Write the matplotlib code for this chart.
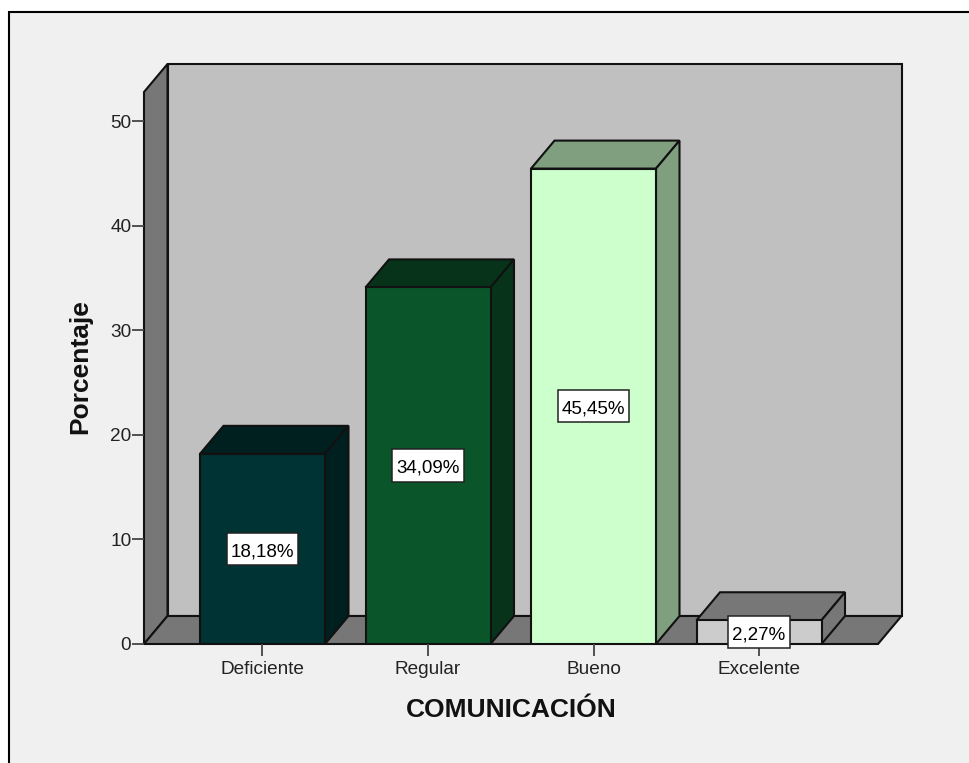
#!/usr/bin/env python
#+++ Imports
import matplotlib
matplotlib.use("Agg")
import matplotlib.pyplot as plt
from matplotlib.lines import Line2D
from matplotlib.patches import Polygon, Rectangle
from matplotlib.path import Path
#---

#+++ Data
categories = ["Deficiente", "Regular", "Bueno", "Excelente"]
percent = [18.18, 34.09, 45.45, 2.27]
percent_labels = ["18,18%", "34,09%", "45,45%", "2,27%"]
face_colors = ["#003333", "#0b552b", "#ccffcc", "#cccccc"]
side_colors = ["#002020", "#07331a", "#7f9f7f", "#777777"]
y_ticks = [0, 10, 20, 30, 40, 50]
#---

#+++ Configuration
W, H = 970, 763
plt.rcParams["font.family"] = ["Liberation Sans", "DejaVu Sans"]
px_left, px_right, px_bottom, px_top = 144, 878, 644, 92  # front plane of the box, in pixels
y_max = (px_bottom - px_top) / 10.46
x_min, x_max = -0.716, 3.719
depth_x, depth_y = 23.5 / 165.5, 28 / 10.46
bar_width = 125 / 165.5
edge = dict(edgecolor="#111111", linewidth=1.5, joinstyle="miter")
#---

fig = plt.figure(figsize=(W / 100, H / 100), dpi=100, facecolor="white")
fig.add_artist(Rectangle((9 / W, 0), 1, 1 - 12 / H, transform=fig.transFigure, facecolor="#f0f0f0", edgecolor="none", zorder=-2))
fig.add_artist(Line2D([9.5 / W, 9.5 / W, 1], [0, 1 - 12 / H, 1 - 12 / H], transform=fig.transFigure, color="black", lw=1.5, solid_joinstyle="miter", zorder=-1))

ax = fig.add_axes([px_left / W, 1 - px_bottom / H, (px_right - px_left) / W, (px_bottom - px_top) / H])
ax.set_xlim(x_min, x_max)
ax.set_ylim(0, y_max)
ax.patch.set_visible(False)
for spine in ax.spines.values():
    spine.set_visible(False)

#+++ Box: back wall, left wall, floor
def poly(points, color, z):
    ax.add_patch(Polygon(points, closed=True, facecolor=color, clip_on=False, zorder=z, **edge))

poly([(x_min + depth_x, depth_y), (x_max + depth_x, depth_y), (x_max + depth_x, y_max + depth_y), (x_min + depth_x, y_max + depth_y)], "#c0c0c0", 1)
poly([(x_min, 0), (x_min + depth_x, depth_y), (x_min + depth_x, y_max + depth_y), (x_min, y_max)], "#777777", 1)
poly([(x_min, 0), (x_max, 0), (x_max + depth_x, depth_y), (x_min + depth_x, depth_y)], "#777777", 1)
#---

#+++ Bars
# value labels sit in a box taller than the text, more padding above than below
def label_box(x0, y0, width, height, mutation_size):
    l, r = x0 - 4, x0 + width + 4
    b, t = y0 - 5, y0 + height + 10.5
    return Path([(l, b), (r, b), (r, t), (l, t), (l, b)], closed=True)

xs = list(range(len(categories)))
ax.bar(xs, percent, width=bar_width, color=face_colors, zorder=3, **edge)
for x, v, side in zip(xs, percent, side_colors):
    l, r = x - bar_width / 2, x + bar_width / 2
    poly([(l, v), (r, v), (r + depth_x, v + depth_y), (l + depth_x, v + depth_y)], side, 2)
    poly([(r, 0), (r + depth_x, depth_y), (r + depth_x, v + depth_y), (r, v)], side, 2)
for x, v, label in zip(xs, percent, percent_labels):
    ax.annotate(label, (x, v / 2), xytext=(0, -1.9), textcoords="offset points", ha="center", va="center", fontsize=13.5, color="black", zorder=6,
                annotation_clip=False, bbox=dict(boxstyle=label_box, facecolor="white", edgecolor="#222222", linewidth=1.1))
#---

#+++ Axes
ax.set_xticks(xs, categories)
ax.set_yticks(y_ticks)
ax.tick_params(axis="both", length=8.6, width=1.3, color="#444444", labelsize=13.7, labelcolor="#222222", pad=0.5)
ax.tick_params(axis="x", pad=4)
fig.text(511 / W, 1 - 710 / H, "COMUNICACIÓN", ha="center", va="center", fontsize=19, fontweight="bold", color="#111111")
fig.text(80 / W, 1 - 367 / H, "Porcentaje", ha="center", va="center", rotation=90, fontsize=19, fontweight="bold", color="#111111")
#---

fig.savefig("out.png", dpi=100)
